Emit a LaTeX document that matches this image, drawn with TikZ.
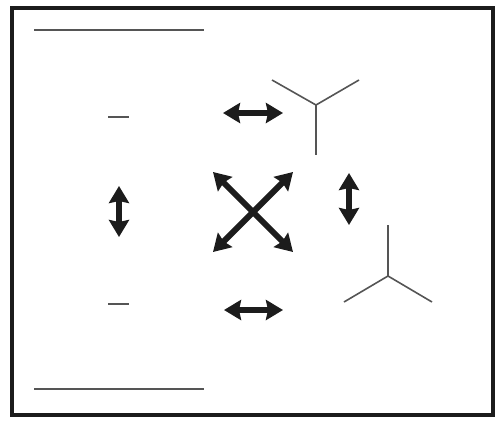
\documentclass[tikz,border=0pt]{standalone}
\usetikzlibrary{arrows.meta}

\definecolor{inkdark}{HTML}{1C1C1C}
\definecolor{inkgray}{HTML}{555555}

\tikzset{
    dblarrow/.style={inkdark, line width=6pt,
        {Stealth[length=17pt,width=20pt,inset=2pt]}-{Stealth[length=17pt,width=20pt,inset=2pt]}},
    thinline/.style={inkgray, line width=1.8pt},
    bond/.style={inkgray, line width=1.6pt}
}

\begin{document}
\begin{tikzpicture}[x=1pt,y=-1pt]

    \useasboundingbox (0,0) rectangle (501,421);
    \draw[inkdark, line width=4pt] (11.5,7.5) rectangle (492.5,415);

    % top and bottom lines
    \coordinate (topL) at (34,30);
    \coordinate (topR) at (204,30);
    \coordinate (botL) at (34,389);
    \coordinate (botR) at (204,389);
    \draw[thinline] (topL) -- (topR);
    \draw[thinline] (botL) -- (botR);

    % short dashes
    \coordinate (dashAl) at (108,117);
    \coordinate (dashAr) at (129,117);
    \coordinate (dashBl) at (108,304);
    \coordinate (dashBr) at (129,304);
    \draw[thinline] (dashAl) -- (dashAr);
    \draw[thinline] (dashBl) -- (dashBr);

    % double arrows
    \coordinate (hA1) at (223,113);
    \coordinate (hA2) at (283,113);
    \coordinate (hB1) at (224,310);
    \coordinate (hB2) at (283,310);
    \coordinate (vL1) at (119,186);
    \coordinate (vL2) at (119,237);
    \coordinate (vR1) at (349,173);
    \coordinate (vR2) at (349,225);
    \coordinate (xTL) at (213,172);
    \coordinate (xBR) at (293,252);
    \coordinate (xTR) at (293,172);
    \coordinate (xBL) at (213,252);

    \draw[dblarrow] (hA1) -- (hA2);
    \draw[dblarrow] (hB1) -- (hB2);
    \draw[dblarrow] (vL1) -- (vL2);
    \draw[dblarrow] (vR1) -- (vR2);
    \draw[dblarrow] (xTL) -- (xBR);
    \draw[dblarrow] (xTR) -- (xBL);

    % Y shape
    \coordinate (yC) at (316,105);
    \coordinate (yA) at (272,80);
    \coordinate (yB) at (359,80);
    \coordinate (yD) at (316,155);
    \draw[bond] (yA) -- (yC) -- (yB);
    \draw[bond] (yC) -- (yD);

    % inverted Y shape
    \coordinate (iC) at (388,276);
    \coordinate (iT) at (388,225);
    \coordinate (iL) at (344,302);
    \coordinate (iR) at (432,302);
    \draw[bond] (iL) -- (iC) -- (iR);
    \draw[bond] (iC) -- (iT);

\end{tikzpicture}
\end{document}
